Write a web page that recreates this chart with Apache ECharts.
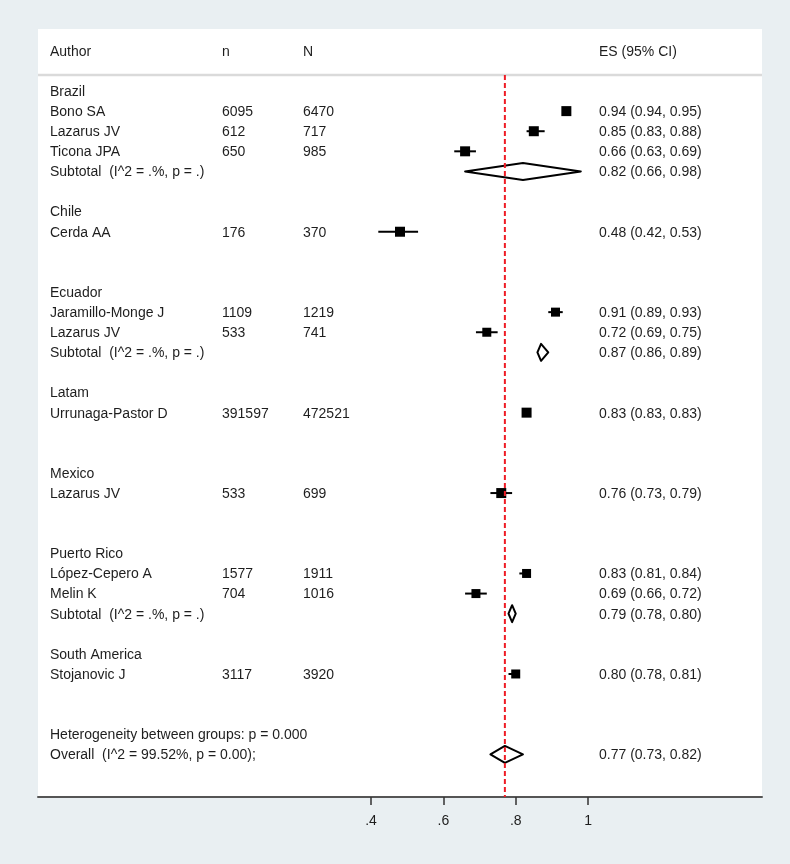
<!DOCTYPE html>
<html>
<head>
<meta charset="utf-8">
<script src="https://cdn.jsdelivr.net/npm/echarts@6/dist/echarts.min.js"></script>
<style>
html,body{margin:0;padding:0;background:#e9eff2;}
#chart{width:790px;height:864px;}
</style>
</head>
<body>
<div id="chart"></div>
<script>
// ---------------- data ----------------
const headers = ['Author', 'n', 'N', 'ES (95% CI)'];
const groups = ['Brazil', 'Chile', 'Ecuador', 'Latam', 'Mexico', 'Puerto Rico', 'South America'];
const studies = ['Bono SA', 'Lazarus JV', 'Ticona JPA', 'Cerda AA', 'Jaramillo-Monge J', 'Lazarus JV',
  'Urrunaga-Pastor D', 'Lazarus JV', 'López-Cepero A', 'Melin K', 'Stojanovic J'];
const studyGroup = [0, 0, 0, 1, 2, 2, 3, 4, 5, 5, 6];
const nEvents = [6095, 612, 650, 176, 1109, 533, 391597, 533, 1577, 704, 3117];
const nTotal = [6470, 717, 985, 370, 1219, 741, 472521, 699, 1911, 1016, 3920];
const es = [0.94, 0.85, 0.66, 0.48, 0.91, 0.72, 0.83, 0.76, 0.83, 0.69, 0.80];
const ciLow = [0.94, 0.83, 0.63, 0.42, 0.89, 0.69, 0.83, 0.73, 0.81, 0.66, 0.78];
const ciHigh = [0.95, 0.88, 0.69, 0.53, 0.93, 0.75, 0.83, 0.79, 0.84, 0.72, 0.81];
const weights = [10, 10, 10, 10, 9, 9, 10, 10, 9, 9, 9];
const subGroup = [0, 2, 5];
const subES = [0.82, 0.87, 0.79];
const subLow = [0.66, 0.86, 0.78];
const subHigh = [0.98, 0.89, 0.80];
const subLabel = 'Subtotal  (I^2 = .%, p = .)';
const overallES = 0.77, overallLow = 0.73, overallHigh = 0.82;
const heterogeneityLabel = 'Heterogeneity between groups: p = 0.000';
const overallLabel = 'Overall  (I^2 = 99.52%, p = 0.00);';
const tickValues = [0.4, 0.6, 0.8, 1];
const tickLabels = ['.4', '.6', '.8', '1'];

// ---------------- layout ----------------
const COL = {author: 50, n: 222, N: 303, es: 599};
const fmt = v => v.toFixed(2);
const ciText = (e, l, h) => fmt(e) + ' (' + fmt(l) + ', ' + fmt(h) + ')';

const texts = [];     // [x, row, text]
const points = [];    // [es, lo, hi, row, size]
const diamonds = [];  // [es, lo, hi, row]

texts.push([COL.author, -2, headers[0]], [COL.n, -2, headers[1]], [COL.N, -2, headers[2]], [COL.es, -2, headers[3]]);

let row = 0;
groups.forEach((g, gi) => {
  texts.push([COL.author, row, g]);
  row++;
  const idx = studyGroup.map((s, i) => s === gi ? i : -1).filter(i => i >= 0);
  idx.forEach(i => {
    texts.push([COL.author, row, studies[i]]);
    texts.push([COL.n, row, String(nEvents[i])]);
    texts.push([COL.N, row, String(nTotal[i])]);
    texts.push([COL.es, row, ciText(es[i], ciLow[i], ciHigh[i])]);
    points.push([es[i], ciLow[i], ciHigh[i], row, weights[i]]);
    row++;
  });
  const si = subGroup.indexOf(gi);
  if (si >= 0) {
    texts.push([COL.author, row, subLabel]);
    texts.push([COL.es, row, ciText(subES[si], subLow[si], subHigh[si])]);
    diamonds.push([subES[si], subLow[si], subHigh[si], row]);
  }
  row += 2;
});
texts.push([COL.author, row, heterogeneityLabel]);
row++;
texts.push([COL.author, row, overallLabel]);
texts.push([COL.es, row, ciText(overallES, overallLow, overallHigh)]);
diamonds.push([overallES, overallLow, overallHigh, row]);

const Y_MIN = -3.085, Y_MAX = 35.12;
const X_MIN = -0.521, X_MAX = 1.481;
const FONT = '"Liberation Sans", Arial, sans-serif';
const FS = 14;
const TXT = '#1e1e1e';

const chart = echarts.init(document.getElementById('chart'), null, {renderer: 'canvas'});
chart.setOption({
  backgroundColor: '#e9eff2',
  animation: false,
  grid: {left: 38, right: 28, top: 29, bottom: 67, show: true, backgroundColor: '#ffffff', borderWidth: 0, containLabel: false},
  xAxis: [{
    type: 'value', min: X_MIN, max: X_MAX, position: 'bottom',
    axisLine: {show: true, onZero: false, lineStyle: {color: '#555555', width: 2}},
    axisTick: {show: true, inside: false, length: 8, customValues: tickValues, lineStyle: {color: '#333333', width: 1.5}},
    axisLabel: {show: true, customValues: tickValues, margin: 17, color: TXT, fontFamily: FONT, fontSize: FS,
      formatter: v => tickLabels[tickValues.findIndex(t => Math.abs(t - v) < 1e-9)] || ''},
    splitLine: {show: false}
  }, {
    type: 'value', min: 38, max: 762, show: false
  }],
  yAxis: {type: 'value', min: Y_MIN, max: Y_MAX, inverse: true, show: false},
  series: [
    { // header separator
      type: 'custom', xAxisIndex: 0, yAxisIndex: 0, z: 1,
      data: [[-0.8]],
      renderItem: (params, api) => {
        const a = api.coord([X_MIN, api.value(0)]);
        const b = api.coord([X_MAX, api.value(0)]);
        return {type: 'line', shape: {x1: a[0], y1: a[1], x2: b[0], y2: b[1]},
          style: {stroke: '#dadada', lineWidth: 2.5}};
      }
    },
    { // text columns
      type: 'custom', xAxisIndex: 1, yAxisIndex: 0, z: 5,
      data: texts.map(t => [t[0], t[1]]),
      renderItem: (params, api) => {
        const p = api.coord([api.value(0), api.value(1)]);
        return {type: 'text', x: p[0], y: p[1] + 1,
          style: {text: texts[params.dataIndex][2], fill: TXT, fontFamily: FONT, fontSize: FS,
            align: 'left', verticalAlign: 'middle'}};
      }
    },
    { // study estimates
      type: 'custom', xAxisIndex: 0, yAxisIndex: 0, z: 3,
      data: points,
      renderItem: (params, api) => {
        const lo = api.coord([api.value(1), api.value(3)]);
        const hi = api.coord([api.value(2), api.value(3)]);
        const c = api.coord([api.value(0), api.value(3)]);
        const s = api.value(4);
        return {type: 'group', children: [
          {type: 'line', shape: {x1: lo[0], y1: lo[1], x2: hi[0], y2: hi[1]}, style: {stroke: '#000', lineWidth: 2}},
          {type: 'rect', shape: {x: c[0] - s / 2, y: c[1] - s / 2, width: s, height: s}, style: {fill: '#000'}}
        ]};
      }
    },
    { // pooled diamonds
      type: 'custom', xAxisIndex: 0, yAxisIndex: 0, z: 3,
      data: diamonds,
      renderItem: (params, api) => {
        const r = api.value(3);
        const l = api.coord([api.value(1), r]);
        const h = api.coord([api.value(2), r]);
        const c = api.coord([api.value(0), r]);
        const hh = 8.5;
        return {type: 'polygon', shape: {points: [[l[0], l[1]], [c[0], c[1] - hh], [h[0], h[1]], [c[0], c[1] + hh]]},
          style: {fill: 'none', stroke: '#000', lineWidth: 2, lineJoin: 'round'}};
      }
    },
    { // overall reference line
      type: 'custom', xAxisIndex: 0, yAxisIndex: 0, z: 4,
      data: [[overallES, -0.8]],
      renderItem: (params, api) => {
        const a = api.coord([api.value(0), api.value(1)]);
        const b = api.coord([api.value(0), Y_MAX]);
        return {type: 'line', shape: {x1: a[0], y1: a[1], x2: b[0], y2: b[1]},
          style: {stroke: '#ee1c25', lineWidth: 2, lineDash: [5, 3]}};
      }
    }
  ]
});
</script>
</body>
</html>
